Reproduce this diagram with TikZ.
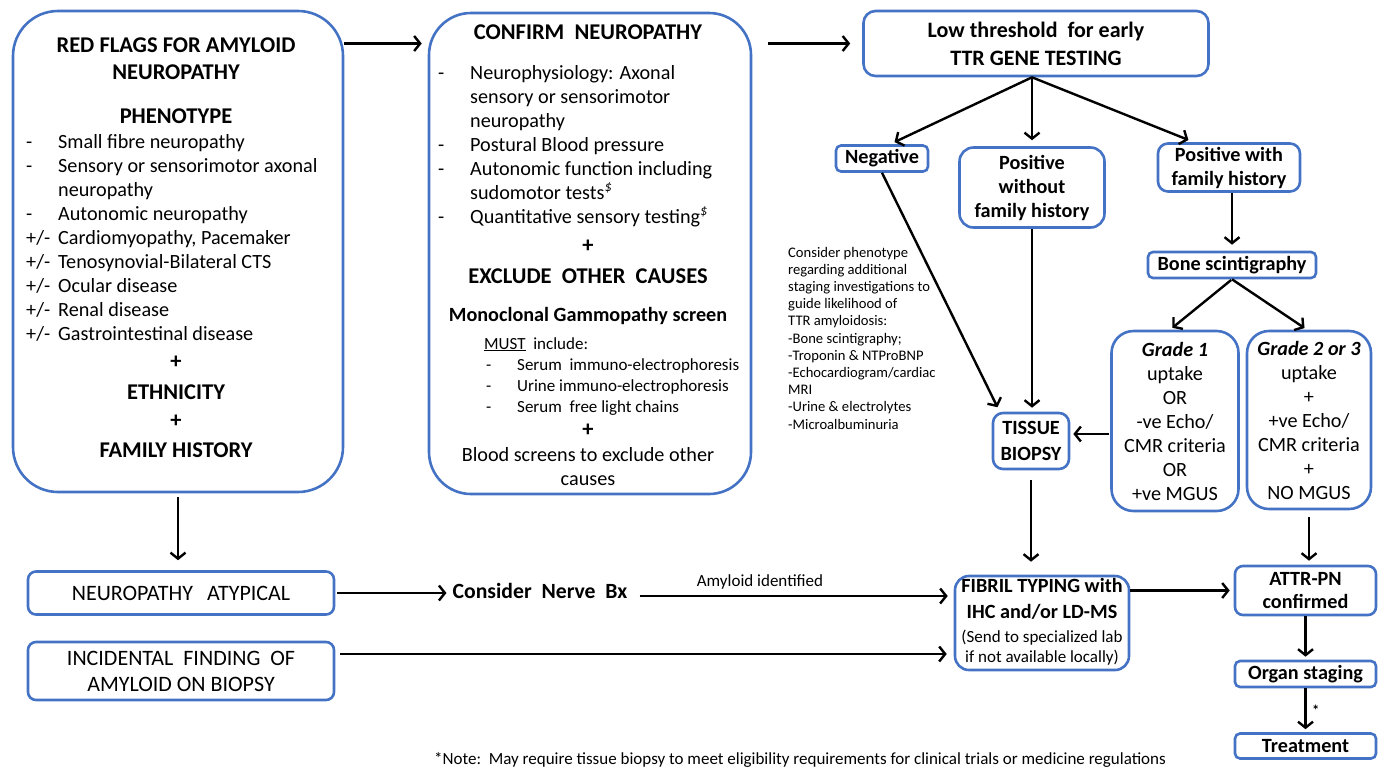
\documentclass[tikz,border=0pt]{standalone}
\usepackage{fontspec}
\setmainfont{Carlito}
\usetikzlibrary{arrows.meta}
\definecolor{boxblue}{HTML}{4472C4}
\newcommand{\fbody}{\fontsize{20.2}{24}\selectfont}
\newcommand{\fhead}{\fontsize{22.5}{27}\selectfont}
\newcommand{\fcaps}{\fontsize{22}{26}\selectfont}
\newcommand{\fsmall}{\fontsize{17}{21}\selectfont}
\newcommand{\ftiny}{\fontsize{14.6}{17.2}\selectfont}
\tikzset{
	box/.style={draw=boxblue, line width=2.6pt, rounded corners=#1, inner sep=0pt, align=center, font=\fbody},
	box/.default=6pt,
	txt/.style={inner sep=0pt, font=\fbody},
	link/.style={line width=2.4pt, -{Straight Barb[length=6pt,width=15pt]}},
}

\begin{document}
\begin{tikzpicture}[x=1pt, y=-1pt]
	\useasboundingbox (0,0) rectangle (1378,769);
	% boxes
	\node[box=45pt, minimum width=330pt, minimum height=481pt] (red) at (178,251.5) {};
	\node[box=42pt, minimum width=322pt, minimum height=481pt] (confirm) at (590,253.5) {};
	\node[box=12pt, minimum width=345pt, minimum height=65pt, font=\fontsize{22}{24}\selectfont\bfseries] (ttr) at (1036,43.5) {Low threshold\ \ for early\\[4pt]TTR GENE TESTING};
	\node[box=5pt, minimum width=92pt, minimum height=26pt, font=\fbody\bfseries] (neg) at (882,158.5) {Negative};
	\node[box=14pt, minimum width=145pt, minimum height=80pt, font=\fbody\bfseries] (poswo) at (1032,187.5) {Positive\\without\\family history};
	\node[box=10pt, minimum width=142pt, minimum height=48pt, font=\fbody\bfseries] (poswith) at (1229,167.5) {Positive with\\family history};
	\node[box=5pt, minimum width=168pt, minimum height=26pt, font=\fbody\bfseries] (bone) at (1232,265) {Bone scintigraphy};
	\node[box=22pt, minimum width=127pt, minimum height=180pt] (grade1) at (1175,421) {{\bfseries\itshape Grade 1}\\uptake\\OR\\-ve Echo/\\CMR criteria\\OR\\+ve MGUS};
	\node[box=22pt, minimum width=124pt, minimum height=178pt] (grade2) at (1309,420) {{\bfseries\itshape Grade 2 or 3}\\uptake\\+\\+ve Echo/\\CMR criteria\\+\\NO MGUS};
	\node[box=10pt, minimum width=76pt, minimum height=56pt, font=\fbody\bfseries] (tissue) at (1031,441) {TISSUE\\[2pt]BIOPSY};
	\node[box=14pt, minimum width=174pt, minimum height=92pt] (fibril) at (1042,623) {\begin{tabular}{@{}c@{}}
		\bfseries FIBRIL TYPING with\\[2pt]
		\bfseries IHC and/or LD-MS\\
		\fsmall (Send to specialized lab\\[-4pt]
		\fsmall if not available locally)
	\end{tabular}};
	\node[box=8pt, minimum width=141pt, minimum height=49pt, font=\fbody\bfseries] (attr) at (1305.5,590.5) {ATTR-PN\\[-1pt]confirmed};
	\node[box=5pt, minimum width=141pt, minimum height=26pt, font=\fbody\bfseries] (organ) at (1305.5,674) {Organ staging};
	\node[box=5pt, minimum width=141pt, minimum height=25pt, font=\fbody\bfseries] (treat) at (1305.5,746) {Treatment};
	\node[box=8pt, minimum width=306pt, minimum height=43pt, font=\fcaps] (atyp) at (181,593) {NEUROPATHY\hspace{14pt}ATYPICAL};
	\node[box=8pt, minimum width=306pt, minimum height=58pt, font=\fcaps] (incid) at (181,671) {INCIDENTAL\ \ FINDING\ \ OF\\AMYLOID ON BIOPSY};
	% red flags
	\node[txt, font=\fhead\bfseries, align=center] (redtitle) at (176,58.5) {RED FLAGS FOR AMYLOID\\NEUROPATHY};
	\node[txt, font=\fhead\bfseries] (pheno) at (176,116) {PHENOTYPE};
	\node[txt, anchor=base west] (redlist) at (26,148) {\begin{tabular}[t]{@{}p{32pt}@{}l@{}}
		- & Small fibre neuropathy\\
		- & Sensory or sensorimotor axonal\\
		  & neuropathy\\
		- & Autonomic neuropathy\\
		+/- & Cardiomyopathy, Pacemaker\\
		+/- & Tenosynovial-Bilateral CTS\\
		+/- & Ocular disease\\
		+/- & Renal disease\\
		+/- & Gastrointestinal disease
	\end{tabular}};
	\node[txt, font=\fhead\bfseries] (plusa) at (176,362) {+};
	\node[txt, font=\fhead\bfseries] (ethnic) at (176,392) {ETHNICITY};
	\node[txt, font=\fhead\bfseries] (plusb) at (176,421) {+};
	\node[txt, font=\fhead\bfseries] (famhist) at (176,450) {FAMILY HISTORY};
	% confirm neuropathy
	\node[txt, font=\fhead\bfseries] (conftitle) at (588,32) {CONFIRM\ \ NEUROPATHY};
	\node[txt, anchor=base west] (conflist) at (438,79) {\begin{tabular}[t]{@{}p{32pt}@{}l@{}}
		- & Neurophysiology: Axonal\\
		  & sensory or sensorimotor\\
		  & neuropathy\\
		- & Postural Blood pressure\\
		- & Autonomic function including\\
		  & sudomotor tests\textsuperscript{\textit{\$}}\\
		- & Quantitative sensory testing\textsuperscript{\textit{\$}}
	\end{tabular}};
	\node[txt, font=\fhead\bfseries] (plusc) at (588,246) {+};
	\node[txt, font=\fhead\bfseries] (exclude) at (588,276) {EXCLUDE\ \ OTHER\ \ CAUSES};
	\node[txt, font=\fbody\bfseries] (mgscreen) at (588,316) {Monoclonal Gammopathy screen};
	\node[txt, font=\fsmall, anchor=base west] (must) at (484,349) {\underline{MUST}\ \ include:};
	\node[txt, font=\fsmall, anchor=base west] (mglist) at (486,370) {\begin{tabular}[t]{@{}p{31pt}@{}l@{}}
		- & Serum\ \ immuno-electrophoresis\\
		- & Urine immuno-electrophoresis\\
		- & Serum\ \ free light chains
	\end{tabular}};
	\node[txt, font=\fhead\bfseries] (plusd) at (588,430) {+};
	\node[txt, align=center] (blood) at (588,467) {Blood screens to exclude other\\causes};
	% free texts
	\node[txt, font=\ftiny, anchor=base west] (hint) at (788,257) {\begin{tabular}[t]{@{}l@{}}
		Consider phenotype\\
		regarding additional\\
		staging investigations to\\
		guide likelihood of\\
		TTR amyloidosis:\\
		-Bone scintigraphy;\\
		-Troponin \& NTProBNP\\
		-Echocardiogram/cardiac\\
		MRI\\
		-Urine \& electrolytes\\
		-Microalbuminuria
	\end{tabular}};
	\node[txt, font=\fontsize{21.7}{24}\selectfont\bfseries] (nervebx) at (540,591) {Consider\ \ Nerve\ \ Bx};
	\node[txt, font=\fsmall] (amylabel) at (760,582) {Amyloid identified};
	\node[txt, font=\fsmall] (footnote) at (800,760) {*Note:\ \ May require tissue biopsy to meet eligibility requirements for clinical trials or medicine regulations};
	% arrows
	\draw[link, shorten >=6pt] (red.east |- ttr.center) -- (confirm.west |- ttr.center);
	\draw[link, shorten <=16pt, shorten >=12pt] (confirm.east |- ttr.center) -- (ttr.west);
	\coordinate (split) at (poswo.north |- ttr.south);
	\draw[link, shorten >=5pt] (split) -- ([xshift=8pt]neg.north);
	\draw[link, shorten >=6pt] (split) -- (poswo.north);
	\draw[link, shorten >=6pt] (split) -- ([xshift=-35pt]poswith.north);
	\draw[link, shorten >=6pt] (bone.north |- poswith.south) -- (bone.north);
	\draw[link, shorten <=1pt, shorten >=3pt] (bone.south) -- ([xshift=-5pt]grade1.north);
	\draw[link, shorten >=3pt] (bone.south) -- ([xshift=-2pt]grade2.north);
	\draw[link, shorten <=1pt, shorten >=3pt] ([yshift=-13pt]grade1.west) -- ([yshift=-13pt]grade1.west -| tissue.east);
	\draw[link, shorten >=5pt] (neg.south) -- ([xshift=8pt]tissue.north west);
	\draw[link, shorten >=4pt] (poswo.south) -- (poswo.south |- tissue.north);
	\draw[link, shorten <=10pt, shorten >=13pt] (tissue.south) -- (tissue.south |- fibril.north);
	\draw[link, shorten <=7pt, shorten >=4pt] (grade2.south) -- (grade2.south |- attr.north);
	\draw[link, shorten >=4pt] (fibril.east |- attr.west) -- (attr.west);
	\draw[link, shorten >=3pt] (attr.south) -- (organ.north);
	\draw[link, shorten >=3pt] (organ.south) -- (treat.north) node[midway, right, font=\ftiny\bfseries, xshift=2pt] (star) {*};
	\draw[link, shorten <=4pt, shorten >=10pt] (red.south) -- (red.south |- atyp.north);
	\draw[link, shorten <=2pt, shorten >=6pt] (atyp.east) -- (atyp.east -| nervebx.west);
	\draw[link, shorten <=12pt, shorten >=6pt] ([yshift=-5pt]nervebx.east) -- ([yshift=-5pt]nervebx.east -| fibril.west);
	\draw[link, shorten <=5pt, shorten >=7pt] ([yshift=17pt]incid.east) -- ([yshift=17pt]incid.east -| fibril.west);
\end{tikzpicture}
\end{document}
